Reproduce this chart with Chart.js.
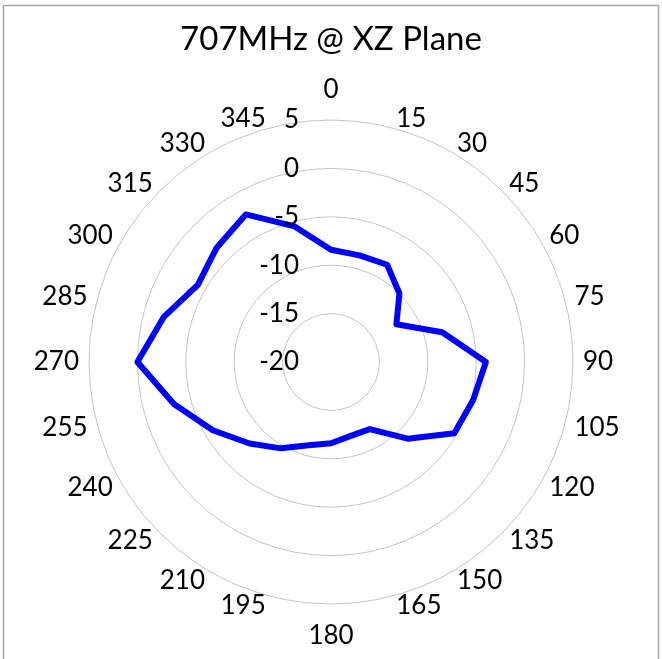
<!DOCTYPE html>
<html>
<head>
<meta charset="utf-8">
<script src="https://cdn.jsdelivr.net/npm/chart.js@4/dist/chart.umd.min.js"></script>
<style>
  body { margin: 0; background: #fff; }
  canvas { display: block; }
</style>
</head>
<body>
<canvas id="myChart" width="662" height="659"></canvas>
<script>
// angles in degrees, clockwise from the top
const angles = ["0", "15", "30", "45", "60", "75", "90", "105", "120", "135", "150", "165",
  "180", "195", "210", "225", "240", "255", "270", "285", "300", "315", "330", "345"]

// gain in dB
const gainValues = [-8.4, -8.6, -8.4, -10.0, -12.2, -8.1, -4.0, -4.8, -5.3, -8.8, -12.0, -12.1,
  -11.6, -11.1, -9.7, -8.1, -5.9, -3.2, 0.0, -2.1, -4.1, -3.3, -2.4, -5.5]

const tickValues = [-20, -15, -10, -5, 0, 5]

const fontFamily = "Lato, 'Open Sans', sans-serif"

// excel puts the value labels left of the vertical axis, right aligned
const tickLabels = {
  id: "tickLabels",
  afterDatasetsDraw(chart) {
    const scale = chart.scales.r
    const ctx = chart.ctx
    ctx.save()
    ctx.font = "26px " + fontFamily
    ctx.fillStyle = "#000"
    ctx.textAlign = "right"
    ctx.textBaseline = "middle"
    for (let i = 0; i < tickValues.length; i++) {
      const d = scale.getDistanceFromCenterForValue(tickValues[i])
      ctx.fillText(String(tickValues[i]), scale.xCenter - 32, scale.yCenter - d)
    }
    ctx.restore()
  }
}

// angle labels: left/right aligned and vertically centred on a ring just outside the grid
const angleLabels = {
  id: "angleLabels",
  afterDatasetsDraw(chart) {
    const scale = chart.scales.r
    const ctx = chart.ctx
    ctx.save()
    ctx.font = "26px " + fontFamily
    ctx.fillStyle = "#000"
    ctx.textBaseline = "middle"
    for (let i = 0; i < angles.length; i++) {
      const p = scale.getPointPosition(i, scale.drawingArea + 10)
      const deg = Number(angles[i])
      let y = p.y
      if (deg === 0) {
        ctx.textAlign = "center"
        y -= 20
      } else if (deg === 180) {
        ctx.textAlign = "center"
        y += 22
      } else if (deg < 180) {
        ctx.textAlign = "left"
      } else {
        ctx.textAlign = "right"
      }
      ctx.fillText(angles[i], p.x, y)
    }
    ctx.restore()
  }
}

const chartBorder = {
  id: "chartBorder",
  beforeDraw(chart) {
    const ctx = chart.ctx
    ctx.save()
    ctx.fillStyle = "#fff"
    ctx.fillRect(0, 0, chart.width, chart.height)
    ctx.strokeStyle = "#a6a6a6"
    ctx.lineWidth = 1.5
    ctx.strokeRect(3.5, 5.5, 655, 660)
    ctx.restore()
  }
}

const polarChart = document.getElementById("myChart")

new Chart(polarChart, {
  type: "radar",
  data: {
    labels: angles,
    datasets: [
      {
        label: "707MHz",
        data: gainValues,
        borderColor: "#0000ff",
        borderWidth: 6,
        borderJoinStyle: "round",
        pointRadius: 0,
        fill: false,
        tension: 0,
      },
    ],
  },
  options: {
    responsive: false,
    animation: false,
    devicePixelRatio: 1,
    layout: {
      padding: { left: 89, right: 89, top: 0, bottom: 55 },
    },
    plugins: {
      legend: { display: false },
      tooltip: { enabled: false },
      title: {
        display: true,
        text: "707MHz @ XZ Plane",
        color: "#000",
        font: { family: fontFamily, size: 33, weight: "normal" },
        padding: { top: 20, bottom: 60.4 },
      },
    },
    scales: {
      r: {
        min: -20,
        max: 5,
        ticks: { display: false, stepSize: 5 },
        grid: { circular: true, color: "#c4c4c4", lineWidth: 1 },
        angleLines: { display: false },
        pointLabels: { display: false },
      },
    },
  },
  plugins: [chartBorder, tickLabels, angleLabels],
})
</script>
</body>
</html>
